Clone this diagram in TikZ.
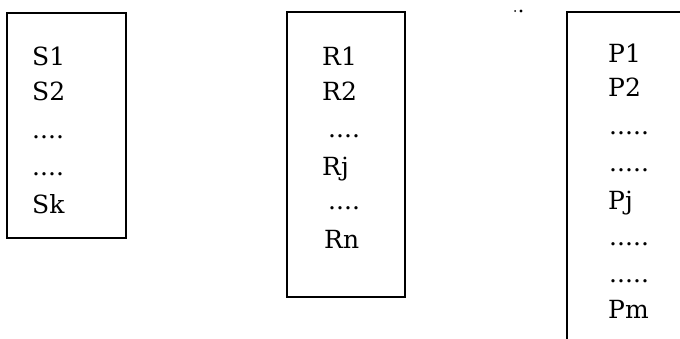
\documentclass[tikz,border=0pt]{standalone}
\usepackage{fontspec}
\setmainfont{DejaVu Serif}
\begin{document}
\begin{tikzpicture}[x=1pt,y=-1pt,
  lbl/.style={anchor=base west,inner sep=0pt,font=\fontsize{25}{30}\selectfont},
  boxline/.style={draw=black,line width=2.6pt}]
\useasboundingbox (0,0) rectangle (680,338);
% S box
\draw[boxline] (7,13) rectangle (126,238);
\node[lbl] (s1) at (32,65) {S1};
\node[lbl] (s2) at (32,100) {S2};
\node[lbl] (sd1) at (32,138) {....};
\node[lbl] (sd2) at (32,175) {....};
\node[lbl] (sk) at (32,213) {Sk};
% R box
\draw[boxline] (287,12) rectangle (405,297);
\node[lbl] (r1) at (322,65) {R1};
\node[lbl] (r2) at (322,100) {R2};
\node[lbl] (rd1) at (328,137) {....};
\node[lbl] (rj) at (322,175) {Rj};
\node[lbl] (rd2) at (328,209) {....};
\node[lbl] (rn) at (324,248) {Rn};
% P box (cut off)
\draw[boxline] (682,12) -- (567,12) -- (567,340);
\node[lbl] (p1) at (608,62) {P1};
\node[lbl] (p2) at (608,96) {P2};
\node[lbl] (pd1) at (609,134) {.....};
\node[lbl] (pd2) at (609,171) {.....};
\node[lbl] (pj) at (608,209) {Pj};
\node[lbl] (pd3) at (609,245) {.....};
\node[lbl] (pd4) at (609,282) {.....};
\node[lbl] (pm) at (608,318) {Pm};
% stray dots
\fill (515,11) circle (1pt);
\fill (521,11) circle (1.6pt);
\end{tikzpicture}
\end{document}
